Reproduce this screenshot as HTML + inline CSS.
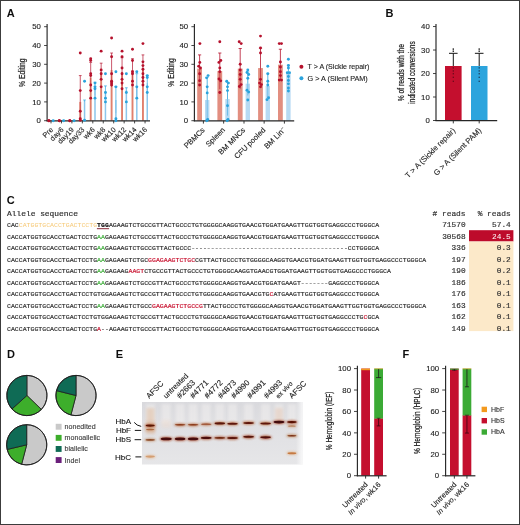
<!DOCTYPE html>
<html><head><meta charset="utf-8"><title>Figure</title>
<style>
html,body{margin:0;padding:0;background:#fff;}
body{width:520px;height:525px;overflow:hidden;position:relative;font-family:"Liberation Sans",sans-serif;}
svg{position:absolute;left:0;top:0;display:block;will-change:transform;}
svg text{white-space:pre;}
.m{font-family:"Liberation Mono",monospace;}
.sq tspan{stroke-width:0.16;}
.hd{stroke:#333;stroke-width:0.18;}
.frame{position:absolute;left:0;top:0;width:518px;height:523px;border:1px solid #3c3c3c;pointer-events:none;}
</style></head><body>
<svg width="520" height="525" viewBox="0 0 520 525" style="font-family:'Liberation Sans',sans-serif">
<rect x="0" y="0" width="520" height="525" fill="#fff"/>
<g font-weight="bold" font-size="11" fill="#0d0d0d">
<text x="6.7" y="16.8">A</text>
<text x="385.4" y="16.9">B</text>
<text x="6.7" y="204.2">C</text>
<text x="7.0" y="358.3">D</text>
<text x="115.8" y="358.3">E</text>
<text x="402.4" y="358.4">F</text>
</g>
<line x1="47.10" y1="24.00" x2="47.10" y2="121.30" stroke="#262626" stroke-width="1.15" />
<line x1="44.10" y1="120.70" x2="47.10" y2="120.70" stroke="#262626" stroke-width="0.85" />
<text font-size="7.8" fill="#1e1e1e" text-anchor="end" stroke="#1e1e1e" stroke-width="0.12" x="40.90" y="123.45" >0</text>
<line x1="44.10" y1="101.90" x2="47.10" y2="101.90" stroke="#262626" stroke-width="0.85" />
<text font-size="7.8" fill="#1e1e1e" text-anchor="end" stroke="#1e1e1e" stroke-width="0.12" x="40.90" y="104.65" >10</text>
<line x1="44.10" y1="83.10" x2="47.10" y2="83.10" stroke="#262626" stroke-width="0.85" />
<text font-size="7.8" fill="#1e1e1e" text-anchor="end" stroke="#1e1e1e" stroke-width="0.12" x="40.90" y="85.85" >20</text>
<line x1="44.10" y1="64.30" x2="47.10" y2="64.30" stroke="#262626" stroke-width="0.85" />
<text font-size="7.8" fill="#1e1e1e" text-anchor="end" stroke="#1e1e1e" stroke-width="0.12" x="40.90" y="67.05" >30</text>
<line x1="44.10" y1="45.50" x2="47.10" y2="45.50" stroke="#262626" stroke-width="0.85" />
<text font-size="7.8" fill="#1e1e1e" text-anchor="end" stroke="#1e1e1e" stroke-width="0.12" x="40.90" y="48.25" >40</text>
<line x1="44.10" y1="26.70" x2="47.10" y2="26.70" stroke="#262626" stroke-width="0.85" />
<text font-size="7.8" fill="#1e1e1e" text-anchor="end" stroke="#1e1e1e" stroke-width="0.12" x="40.90" y="29.45" >50</text>
<rect x="79.30" y="101.90" width="1.90" height="18.80" fill="#E0806E" />
<line x1="80.25" y1="75.58" x2="80.25" y2="101.90" stroke="#B5112C" stroke-width="0.7" />
<line x1="78.85" y1="75.58" x2="81.65" y2="75.58" stroke="#B5112C" stroke-width="0.7" />
<line x1="80.25" y1="101.90" x2="80.25" y2="120.70" stroke="#B5112C" stroke-width="0.6" opacity="0.7"/>
<rect x="83.80" y="100.96" width="1.50" height="19.74" fill="#8CC6EC" />
<line x1="84.55" y1="100.02" x2="84.55" y2="100.96" stroke="#2BA3DC" stroke-width="0.7" />
<line x1="83.15" y1="100.02" x2="85.95" y2="100.02" stroke="#2BA3DC" stroke-width="0.7" />
<line x1="84.55" y1="100.96" x2="84.55" y2="101.90" stroke="#2BA3DC" stroke-width="0.5" opacity="0.55"/>
<rect x="89.75" y="77.46" width="1.90" height="43.24" fill="#E0806E" />
<line x1="90.70" y1="62.42" x2="90.70" y2="77.46" stroke="#B5112C" stroke-width="0.7" />
<line x1="89.30" y1="62.42" x2="92.10" y2="62.42" stroke="#B5112C" stroke-width="0.7" />
<line x1="90.70" y1="77.46" x2="90.70" y2="92.50" stroke="#B5112C" stroke-width="0.6" opacity="0.7"/>
<rect x="94.25" y="88.74" width="1.50" height="31.96" fill="#8CC6EC" />
<line x1="95.00" y1="82.16" x2="95.00" y2="88.74" stroke="#2BA3DC" stroke-width="0.7" />
<line x1="93.60" y1="82.16" x2="96.40" y2="82.16" stroke="#2BA3DC" stroke-width="0.7" />
<line x1="95.00" y1="88.74" x2="95.00" y2="95.32" stroke="#2BA3DC" stroke-width="0.5" opacity="0.55"/>
<rect x="100.20" y="71.82" width="1.90" height="48.88" fill="#E0806E" />
<line x1="101.15" y1="63.17" x2="101.15" y2="71.82" stroke="#B5112C" stroke-width="0.7" />
<line x1="99.75" y1="63.17" x2="102.55" y2="63.17" stroke="#B5112C" stroke-width="0.7" />
<line x1="101.15" y1="71.82" x2="101.15" y2="80.47" stroke="#B5112C" stroke-width="0.6" opacity="0.7"/>
<rect x="104.70" y="91.56" width="1.50" height="29.14" fill="#8CC6EC" />
<line x1="105.45" y1="85.92" x2="105.45" y2="91.56" stroke="#2BA3DC" stroke-width="0.7" />
<line x1="104.05" y1="85.92" x2="106.85" y2="85.92" stroke="#2BA3DC" stroke-width="0.7" />
<line x1="105.45" y1="91.56" x2="105.45" y2="97.20" stroke="#2BA3DC" stroke-width="0.5" opacity="0.55"/>
<rect x="110.65" y="69.94" width="1.90" height="50.76" fill="#E0806E" />
<line x1="111.60" y1="53.02" x2="111.60" y2="69.94" stroke="#B5112C" stroke-width="0.7" />
<line x1="110.20" y1="53.02" x2="113.00" y2="53.02" stroke="#B5112C" stroke-width="0.7" />
<line x1="111.60" y1="69.94" x2="111.60" y2="86.86" stroke="#B5112C" stroke-width="0.6" opacity="0.7"/>
<rect x="115.15" y="100.02" width="1.50" height="20.68" fill="#8CC6EC" />
<line x1="115.90" y1="86.86" x2="115.90" y2="100.02" stroke="#2BA3DC" stroke-width="0.7" />
<line x1="114.50" y1="86.86" x2="117.30" y2="86.86" stroke="#2BA3DC" stroke-width="0.7" />
<line x1="115.90" y1="100.02" x2="115.90" y2="113.18" stroke="#2BA3DC" stroke-width="0.5" opacity="0.55"/>
<rect x="121.10" y="71.82" width="1.90" height="48.88" fill="#E0806E" />
<line x1="122.05" y1="57.72" x2="122.05" y2="71.82" stroke="#B5112C" stroke-width="0.7" />
<line x1="120.65" y1="57.72" x2="123.45" y2="57.72" stroke="#B5112C" stroke-width="0.7" />
<line x1="122.05" y1="71.82" x2="122.05" y2="85.92" stroke="#B5112C" stroke-width="0.6" opacity="0.7"/>
<rect x="125.60" y="89.68" width="1.50" height="31.02" fill="#8CC6EC" />
<line x1="126.35" y1="87.80" x2="126.35" y2="89.68" stroke="#2BA3DC" stroke-width="0.7" />
<line x1="124.95" y1="87.80" x2="127.75" y2="87.80" stroke="#2BA3DC" stroke-width="0.7" />
<line x1="126.35" y1="89.68" x2="126.35" y2="91.56" stroke="#2BA3DC" stroke-width="0.5" opacity="0.55"/>
<rect x="131.55" y="69.94" width="1.90" height="50.76" fill="#E0806E" />
<line x1="132.50" y1="58.66" x2="132.50" y2="69.94" stroke="#B5112C" stroke-width="0.7" />
<line x1="131.10" y1="58.66" x2="133.90" y2="58.66" stroke="#B5112C" stroke-width="0.7" />
<line x1="132.50" y1="69.94" x2="132.50" y2="81.22" stroke="#B5112C" stroke-width="0.6" opacity="0.7"/>
<rect x="136.05" y="85.92" width="1.50" height="34.78" fill="#8CC6EC" />
<line x1="136.80" y1="73.70" x2="136.80" y2="85.92" stroke="#2BA3DC" stroke-width="0.7" />
<line x1="135.40" y1="73.70" x2="138.20" y2="73.70" stroke="#2BA3DC" stroke-width="0.7" />
<line x1="136.80" y1="85.92" x2="136.80" y2="98.14" stroke="#2BA3DC" stroke-width="0.5" opacity="0.55"/>
<rect x="142.00" y="69.94" width="1.90" height="50.76" fill="#E0806E" />
<line x1="142.95" y1="54.90" x2="142.95" y2="69.94" stroke="#B5112C" stroke-width="0.7" />
<line x1="141.55" y1="54.90" x2="144.35" y2="54.90" stroke="#B5112C" stroke-width="0.7" />
<line x1="142.95" y1="69.94" x2="142.95" y2="84.98" stroke="#B5112C" stroke-width="0.6" opacity="0.7"/>
<rect x="146.50" y="83.10" width="1.50" height="37.60" fill="#8CC6EC" />
<line x1="147.25" y1="75.58" x2="147.25" y2="83.10" stroke="#2BA3DC" stroke-width="0.7" />
<line x1="145.85" y1="75.58" x2="148.65" y2="75.58" stroke="#2BA3DC" stroke-width="0.7" />
<line x1="147.25" y1="83.10" x2="147.25" y2="90.62" stroke="#2BA3DC" stroke-width="0.5" opacity="0.55"/>
<line x1="46.50" y1="120.80" x2="150.00" y2="120.80" stroke="#262626" stroke-width="1.2" />
<line x1="51.00" y1="120.70" x2="51.00" y2="123.40" stroke="#262626" stroke-width="0.85" />
<text font-size="7.3" fill="#1e1e1e" text-anchor="end" stroke="#1e1e1e" stroke-width="0.12" transform="translate(53.60,130.20) rotate(-45)" >Pre</text>
<line x1="61.45" y1="120.70" x2="61.45" y2="123.40" stroke="#262626" stroke-width="0.85" />
<text font-size="7.3" fill="#1e1e1e" text-anchor="end" stroke="#1e1e1e" stroke-width="0.12" transform="translate(64.05,130.20) rotate(-45)" >day6</text>
<line x1="71.90" y1="120.70" x2="71.90" y2="123.40" stroke="#262626" stroke-width="0.85" />
<text font-size="7.3" fill="#1e1e1e" text-anchor="end" stroke="#1e1e1e" stroke-width="0.12" transform="translate(74.50,130.20) rotate(-45)" >day19</text>
<line x1="82.35" y1="120.70" x2="82.35" y2="123.40" stroke="#262626" stroke-width="0.85" />
<text font-size="7.3" fill="#1e1e1e" text-anchor="end" stroke="#1e1e1e" stroke-width="0.12" transform="translate(84.95,130.20) rotate(-45)" >day33</text>
<line x1="92.80" y1="120.70" x2="92.80" y2="123.40" stroke="#262626" stroke-width="0.85" />
<text font-size="7.3" fill="#1e1e1e" text-anchor="end" stroke="#1e1e1e" stroke-width="0.12" transform="translate(95.40,130.20) rotate(-45)" >wk6</text>
<line x1="103.25" y1="120.70" x2="103.25" y2="123.40" stroke="#262626" stroke-width="0.85" />
<text font-size="7.3" fill="#1e1e1e" text-anchor="end" stroke="#1e1e1e" stroke-width="0.12" transform="translate(105.85,130.20) rotate(-45)" >wk8</text>
<line x1="113.70" y1="120.70" x2="113.70" y2="123.40" stroke="#262626" stroke-width="0.85" />
<text font-size="7.3" fill="#1e1e1e" text-anchor="end" stroke="#1e1e1e" stroke-width="0.12" transform="translate(116.30,130.20) rotate(-45)" >wk10</text>
<line x1="124.15" y1="120.70" x2="124.15" y2="123.40" stroke="#262626" stroke-width="0.85" />
<text font-size="7.3" fill="#1e1e1e" text-anchor="end" stroke="#1e1e1e" stroke-width="0.12" transform="translate(126.75,130.20) rotate(-45)" >wk12</text>
<line x1="134.60" y1="120.70" x2="134.60" y2="123.40" stroke="#262626" stroke-width="0.85" />
<text font-size="7.3" fill="#1e1e1e" text-anchor="end" stroke="#1e1e1e" stroke-width="0.12" transform="translate(137.20,130.20) rotate(-45)" >wk14</text>
<line x1="145.05" y1="120.70" x2="145.05" y2="123.40" stroke="#262626" stroke-width="0.85" />
<text font-size="7.3" fill="#1e1e1e" text-anchor="end" stroke="#1e1e1e" stroke-width="0.12" transform="translate(147.65,130.20) rotate(-45)" >wk16</text>
<circle cx="48.90" cy="120.70" r="1.45" fill="#B5112C" />
<circle cx="48.90" cy="120.70" r="1.45" fill="#B5112C" />
<circle cx="53.20" cy="120.70" r="1.45" fill="#2BA3DC" />
<circle cx="59.35" cy="120.70" r="1.45" fill="#B5112C" />
<circle cx="59.35" cy="120.70" r="1.45" fill="#B5112C" />
<circle cx="63.65" cy="120.70" r="1.45" fill="#2BA3DC" />
<circle cx="69.80" cy="120.70" r="1.45" fill="#B5112C" />
<circle cx="69.80" cy="120.70" r="1.45" fill="#B5112C" />
<circle cx="74.10" cy="120.70" r="1.45" fill="#2BA3DC" />
<circle cx="80.25" cy="53.02" r="1.45" fill="#B5112C" />
<circle cx="80.25" cy="90.62" r="1.45" fill="#B5112C" />
<circle cx="80.25" cy="111.30" r="1.45" fill="#B5112C" />
<circle cx="80.25" cy="118.82" r="1.45" fill="#B5112C" />
<circle cx="80.25" cy="120.32" r="1.45" fill="#B5112C" />
<circle cx="84.55" cy="81.22" r="1.45" fill="#2BA3DC" />
<circle cx="84.55" cy="120.32" r="1.45" fill="#2BA3DC" />
<circle cx="90.70" cy="58.66" r="1.45" fill="#B5112C" />
<circle cx="90.70" cy="60.54" r="1.45" fill="#B5112C" />
<circle cx="90.70" cy="73.70" r="1.45" fill="#B5112C" />
<circle cx="90.70" cy="75.58" r="1.45" fill="#B5112C" />
<circle cx="90.70" cy="84.98" r="1.45" fill="#B5112C" />
<circle cx="90.70" cy="90.62" r="1.45" fill="#B5112C" />
<circle cx="90.70" cy="98.14" r="1.45" fill="#B5112C" />
<circle cx="95.00" cy="83.10" r="1.45" fill="#2BA3DC" />
<circle cx="95.00" cy="86.86" r="1.45" fill="#2BA3DC" />
<circle cx="95.00" cy="88.74" r="1.45" fill="#2BA3DC" />
<circle cx="95.00" cy="98.14" r="1.45" fill="#2BA3DC" />
<circle cx="101.15" cy="51.14" r="1.45" fill="#B5112C" />
<circle cx="101.15" cy="69.94" r="1.45" fill="#B5112C" />
<circle cx="101.15" cy="73.70" r="1.45" fill="#B5112C" />
<circle cx="101.15" cy="79.34" r="1.45" fill="#B5112C" />
<circle cx="101.15" cy="86.86" r="1.45" fill="#B5112C" />
<circle cx="105.45" cy="73.70" r="1.45" fill="#2BA3DC" />
<circle cx="105.45" cy="92.50" r="1.45" fill="#2BA3DC" />
<circle cx="105.45" cy="98.14" r="1.45" fill="#2BA3DC" />
<circle cx="105.45" cy="101.90" r="1.45" fill="#2BA3DC" />
<circle cx="111.60" cy="37.98" r="1.45" fill="#B5112C" />
<circle cx="111.60" cy="56.78" r="1.45" fill="#B5112C" />
<circle cx="111.60" cy="73.70" r="1.45" fill="#B5112C" />
<circle cx="111.60" cy="81.22" r="1.45" fill="#B5112C" />
<circle cx="111.60" cy="83.10" r="1.45" fill="#B5112C" />
<circle cx="111.60" cy="84.98" r="1.45" fill="#B5112C" />
<circle cx="115.90" cy="71.82" r="1.45" fill="#2BA3DC" />
<circle cx="115.90" cy="86.86" r="1.45" fill="#2BA3DC" />
<circle cx="115.90" cy="118.82" r="1.45" fill="#2BA3DC" />
<circle cx="115.90" cy="120.70" r="1.45" fill="#2BA3DC" />
<circle cx="122.05" cy="51.14" r="1.45" fill="#B5112C" />
<circle cx="122.05" cy="56.78" r="1.45" fill="#B5112C" />
<circle cx="122.05" cy="68.06" r="1.45" fill="#B5112C" />
<circle cx="122.05" cy="73.70" r="1.45" fill="#B5112C" />
<circle cx="122.05" cy="79.34" r="1.45" fill="#B5112C" />
<circle cx="122.05" cy="83.10" r="1.45" fill="#B5112C" />
<circle cx="122.05" cy="88.74" r="1.45" fill="#B5112C" />
<circle cx="126.35" cy="73.70" r="1.45" fill="#2BA3DC" />
<circle cx="126.35" cy="92.50" r="1.45" fill="#2BA3DC" />
<circle cx="126.35" cy="101.90" r="1.45" fill="#2BA3DC" />
<circle cx="132.50" cy="49.26" r="1.45" fill="#B5112C" />
<circle cx="132.50" cy="60.54" r="1.45" fill="#B5112C" />
<circle cx="132.50" cy="71.82" r="1.45" fill="#B5112C" />
<circle cx="132.50" cy="73.70" r="1.45" fill="#B5112C" />
<circle cx="132.50" cy="81.22" r="1.45" fill="#B5112C" />
<circle cx="132.50" cy="84.98" r="1.45" fill="#B5112C" />
<circle cx="136.80" cy="71.82" r="1.45" fill="#2BA3DC" />
<circle cx="136.80" cy="86.86" r="1.45" fill="#2BA3DC" />
<circle cx="136.80" cy="98.14" r="1.45" fill="#2BA3DC" />
<circle cx="142.95" cy="43.62" r="1.45" fill="#B5112C" />
<circle cx="142.95" cy="61.86" r="1.45" fill="#B5112C" />
<circle cx="142.95" cy="65.62" r="1.45" fill="#B5112C" />
<circle cx="142.95" cy="69.19" r="1.45" fill="#B5112C" />
<circle cx="142.95" cy="73.70" r="1.45" fill="#B5112C" />
<circle cx="142.95" cy="77.46" r="1.45" fill="#B5112C" />
<circle cx="142.95" cy="81.22" r="1.45" fill="#B5112C" />
<circle cx="142.95" cy="84.98" r="1.45" fill="#B5112C" />
<circle cx="147.25" cy="75.58" r="1.45" fill="#2BA3DC" />
<circle cx="147.25" cy="77.46" r="1.45" fill="#2BA3DC" />
<circle cx="147.25" cy="86.86" r="1.45" fill="#2BA3DC" />
<circle cx="147.25" cy="92.50" r="1.45" fill="#2BA3DC" />
<text font-size="8.2" fill="#1e1e1e" text-anchor="middle" textLength="28.4" lengthAdjust="spacingAndGlyphs" transform="translate(25.40,72.70) rotate(-90)" stroke="#1e1e1e" stroke-width="0.22">% Editing</text>
<line x1="194.40" y1="24.00" x2="194.40" y2="121.30" stroke="#262626" stroke-width="1.15" />
<line x1="191.40" y1="120.70" x2="194.40" y2="120.70" stroke="#262626" stroke-width="0.85" />
<text font-size="7.8" fill="#1e1e1e" text-anchor="end" stroke="#1e1e1e" stroke-width="0.12" x="188.20" y="123.45" >0</text>
<line x1="191.40" y1="101.90" x2="194.40" y2="101.90" stroke="#262626" stroke-width="0.85" />
<text font-size="7.8" fill="#1e1e1e" text-anchor="end" stroke="#1e1e1e" stroke-width="0.12" x="188.20" y="104.65" >10</text>
<line x1="191.40" y1="83.10" x2="194.40" y2="83.10" stroke="#262626" stroke-width="0.85" />
<text font-size="7.8" fill="#1e1e1e" text-anchor="end" stroke="#1e1e1e" stroke-width="0.12" x="188.20" y="85.85" >20</text>
<line x1="191.40" y1="64.30" x2="194.40" y2="64.30" stroke="#262626" stroke-width="0.85" />
<text font-size="7.8" fill="#1e1e1e" text-anchor="end" stroke="#1e1e1e" stroke-width="0.12" x="188.20" y="67.05" >30</text>
<line x1="191.40" y1="45.50" x2="194.40" y2="45.50" stroke="#262626" stroke-width="0.85" />
<text font-size="7.8" fill="#1e1e1e" text-anchor="end" stroke="#1e1e1e" stroke-width="0.12" x="188.20" y="48.25" >40</text>
<line x1="191.40" y1="26.70" x2="194.40" y2="26.70" stroke="#262626" stroke-width="0.85" />
<text font-size="7.8" fill="#1e1e1e" text-anchor="end" stroke="#1e1e1e" stroke-width="0.12" x="188.20" y="29.45" >50</text>
<rect x="197.20" y="68.62" width="4.80" height="52.08" fill="#E28E80" />
<rect x="205.00" y="100.02" width="4.40" height="20.68" fill="#B7DAF3" />
<line x1="199.60" y1="54.90" x2="199.60" y2="68.62" stroke="#B5112C" stroke-width="0.8" />
<line x1="198.00" y1="54.90" x2="201.20" y2="54.90" stroke="#B5112C" stroke-width="0.8" />
<line x1="207.20" y1="77.46" x2="207.20" y2="100.02" stroke="#2BA3DC" stroke-width="0.8" />
<line x1="205.60" y1="77.46" x2="208.80" y2="77.46" stroke="#2BA3DC" stroke-width="0.5" />
<line x1="199.60" y1="68.62" x2="199.60" y2="82.35" stroke="#B5112C" stroke-width="0.8" opacity="0.75"/>
<line x1="207.20" y1="100.02" x2="207.20" y2="120.70" stroke="#4FB0E3" stroke-width="0.8" opacity="0.85"/>
<rect x="217.40" y="71.07" width="4.80" height="49.63" fill="#E28E80" />
<rect x="225.30" y="99.08" width="4.40" height="21.62" fill="#B7DAF3" />
<line x1="219.80" y1="53.02" x2="219.80" y2="71.07" stroke="#B5112C" stroke-width="0.8" />
<line x1="218.20" y1="53.02" x2="221.40" y2="53.02" stroke="#B5112C" stroke-width="0.8" />
<line x1="227.50" y1="82.54" x2="227.50" y2="99.08" stroke="#2BA3DC" stroke-width="0.8" />
<line x1="225.90" y1="82.54" x2="229.10" y2="82.54" stroke="#2BA3DC" stroke-width="0.5" />
<line x1="219.80" y1="71.07" x2="219.80" y2="89.12" stroke="#B5112C" stroke-width="0.8" opacity="0.75"/>
<line x1="227.50" y1="99.08" x2="227.50" y2="115.62" stroke="#4FB0E3" stroke-width="0.8" opacity="0.85"/>
<rect x="237.80" y="68.62" width="4.80" height="52.08" fill="#E28E80" />
<rect x="245.60" y="83.66" width="4.40" height="37.04" fill="#B7DAF3" />
<line x1="240.20" y1="48.51" x2="240.20" y2="68.62" stroke="#B5112C" stroke-width="0.8" />
<line x1="238.60" y1="48.51" x2="241.80" y2="48.51" stroke="#B5112C" stroke-width="0.8" />
<line x1="247.80" y1="71.82" x2="247.80" y2="83.66" stroke="#2BA3DC" stroke-width="0.8" />
<line x1="246.20" y1="71.82" x2="249.40" y2="71.82" stroke="#2BA3DC" stroke-width="0.5" />
<line x1="240.20" y1="68.62" x2="240.20" y2="88.74" stroke="#B5112C" stroke-width="0.8" opacity="0.75"/>
<line x1="247.80" y1="83.66" x2="247.80" y2="95.51" stroke="#4FB0E3" stroke-width="0.8" opacity="0.85"/>
<rect x="258.10" y="68.06" width="4.80" height="52.64" fill="#E28E80" />
<rect x="265.60" y="85.92" width="4.40" height="34.78" fill="#B7DAF3" />
<line x1="260.50" y1="48.13" x2="260.50" y2="68.06" stroke="#B5112C" stroke-width="0.8" />
<line x1="258.90" y1="48.13" x2="262.10" y2="48.13" stroke="#B5112C" stroke-width="0.8" />
<line x1="267.80" y1="73.70" x2="267.80" y2="85.92" stroke="#2BA3DC" stroke-width="0.8" />
<line x1="266.20" y1="73.70" x2="269.40" y2="73.70" stroke="#2BA3DC" stroke-width="0.5" />
<line x1="260.50" y1="68.06" x2="260.50" y2="87.99" stroke="#B5112C" stroke-width="0.8" opacity="0.75"/>
<line x1="267.80" y1="85.92" x2="267.80" y2="98.14" stroke="#4FB0E3" stroke-width="0.8" opacity="0.85"/>
<rect x="278.00" y="64.68" width="4.80" height="56.02" fill="#E28E80" />
<rect x="286.20" y="72.76" width="4.40" height="47.94" fill="#B7DAF3" />
<line x1="280.40" y1="49.26" x2="280.40" y2="64.68" stroke="#B5112C" stroke-width="0.8" />
<line x1="278.80" y1="49.26" x2="282.00" y2="49.26" stroke="#B5112C" stroke-width="0.8" />
<line x1="288.40" y1="65.24" x2="288.40" y2="72.76" stroke="#2BA3DC" stroke-width="0.8" />
<line x1="286.80" y1="65.24" x2="290.00" y2="65.24" stroke="#2BA3DC" stroke-width="0.5" />
<line x1="280.40" y1="64.68" x2="280.40" y2="80.09" stroke="#B5112C" stroke-width="0.8" opacity="0.75"/>
<line x1="288.40" y1="72.76" x2="288.40" y2="80.28" stroke="#4FB0E3" stroke-width="0.8" opacity="0.85"/>
<line x1="193.80" y1="120.80" x2="294.20" y2="120.80" stroke="#262626" stroke-width="1.2" />
<line x1="203.40" y1="120.70" x2="203.40" y2="123.60" stroke="#262626" stroke-width="0.9" />
<text font-size="7.6" fill="#1e1e1e" text-anchor="end" stroke="#1e1e1e" stroke-width="0.12" transform="translate(205.20,130.60) rotate(-45)" >PBMCs</text>
<line x1="223.65" y1="120.70" x2="223.65" y2="123.60" stroke="#262626" stroke-width="0.9" />
<text font-size="7.6" fill="#1e1e1e" text-anchor="end" stroke="#1e1e1e" stroke-width="0.12" transform="translate(225.45,130.60) rotate(-45)" >Spleen</text>
<line x1="244.00" y1="120.70" x2="244.00" y2="123.60" stroke="#262626" stroke-width="0.9" />
<text font-size="7.6" fill="#1e1e1e" text-anchor="end" stroke="#1e1e1e" stroke-width="0.12" transform="translate(245.80,130.60) rotate(-45)" >BM MNCs</text>
<line x1="264.15" y1="120.70" x2="264.15" y2="123.60" stroke="#262626" stroke-width="0.9" />
<text font-size="7.6" fill="#1e1e1e" text-anchor="end" stroke="#1e1e1e" stroke-width="0.12" transform="translate(265.95,130.60) rotate(-45)" >CFU pooled</text>
<line x1="284.40" y1="120.70" x2="284.40" y2="123.60" stroke="#262626" stroke-width="0.9" />
<text font-size="7.6" fill="#1e1e1e" text-anchor="end" stroke="#1e1e1e" stroke-width="0.12" transform="translate(286.20,130.40) rotate(-45)" >BM Lin<tspan dy="-2.6" font-size="5.4">−</tspan></text>
<circle cx="199.90" cy="43.62" r="1.45" fill="#B5112C" />
<circle cx="199.80" cy="62.42" r="1.45" fill="#B5112C" />
<circle cx="198.70" cy="66.18" r="1.45" fill="#B5112C" />
<circle cx="200.50" cy="68.06" r="1.45" fill="#B5112C" />
<circle cx="199.60" cy="73.70" r="1.45" fill="#B5112C" />
<circle cx="199.60" cy="80.66" r="1.45" fill="#B5112C" />
<circle cx="199.60" cy="84.98" r="1.45" fill="#B5112C" />
<circle cx="208.10" cy="75.58" r="1.45" fill="#2BA3DC" />
<circle cx="206.60" cy="77.84" r="1.45" fill="#2BA3DC" />
<circle cx="207.20" cy="86.86" r="1.45" fill="#2BA3DC" />
<circle cx="207.20" cy="92.88" r="1.45" fill="#2BA3DC" />
<circle cx="207.70" cy="119.57" r="1.45" fill="#2BA3DC" />
<circle cx="206.80" cy="120.70" r="1.45" fill="#2BA3DC" />
<circle cx="219.80" cy="41.74" r="1.45" fill="#B5112C" />
<circle cx="220.80" cy="60.54" r="1.45" fill="#B5112C" />
<circle cx="218.90" cy="62.42" r="1.45" fill="#B5112C" />
<circle cx="219.80" cy="68.06" r="1.45" fill="#B5112C" />
<circle cx="219.80" cy="71.82" r="1.45" fill="#B5112C" />
<circle cx="219.00" cy="78.96" r="1.45" fill="#B5112C" />
<circle cx="220.70" cy="80.84" r="1.45" fill="#B5112C" />
<circle cx="219.80" cy="92.50" r="1.45" fill="#B5112C" />
<circle cx="226.70" cy="81.22" r="1.45" fill="#2BA3DC" />
<circle cx="228.40" cy="83.10" r="1.45" fill="#2BA3DC" />
<circle cx="227.50" cy="86.86" r="1.45" fill="#2BA3DC" />
<circle cx="227.50" cy="90.62" r="1.45" fill="#2BA3DC" />
<circle cx="227.50" cy="105.66" r="1.45" fill="#2BA3DC" />
<circle cx="228.00" cy="119.38" r="1.45" fill="#2BA3DC" />
<circle cx="227.10" cy="120.70" r="1.45" fill="#2BA3DC" />
<circle cx="239.20" cy="41.74" r="1.45" fill="#B5112C" />
<circle cx="241.20" cy="43.62" r="1.45" fill="#B5112C" />
<circle cx="240.20" cy="64.30" r="1.45" fill="#B5112C" />
<circle cx="240.20" cy="69.94" r="1.45" fill="#B5112C" />
<circle cx="240.20" cy="74.45" r="1.45" fill="#B5112C" />
<circle cx="240.20" cy="79.34" r="1.45" fill="#B5112C" />
<circle cx="241.10" cy="84.60" r="1.45" fill="#B5112C" />
<circle cx="239.40" cy="86.48" r="1.45" fill="#B5112C" />
<circle cx="247.80" cy="69.94" r="1.45" fill="#2BA3DC" />
<circle cx="247.00" cy="72.57" r="1.45" fill="#2BA3DC" />
<circle cx="248.70" cy="74.45" r="1.45" fill="#2BA3DC" />
<circle cx="247.80" cy="78.21" r="1.45" fill="#2BA3DC" />
<circle cx="247.00" cy="90.24" r="1.45" fill="#2BA3DC" />
<circle cx="248.70" cy="92.12" r="1.45" fill="#2BA3DC" />
<circle cx="247.80" cy="100.02" r="1.45" fill="#2BA3DC" />
<circle cx="260.50" cy="36.10" r="1.45" fill="#B5112C" />
<circle cx="260.50" cy="47.94" r="1.45" fill="#B5112C" />
<circle cx="260.50" cy="53.02" r="1.45" fill="#B5112C" />
<circle cx="260.50" cy="79.34" r="1.45" fill="#B5112C" />
<circle cx="259.60" cy="83.10" r="1.45" fill="#B5112C" />
<circle cx="261.40" cy="84.60" r="1.45" fill="#B5112C" />
<circle cx="260.50" cy="86.86" r="1.45" fill="#B5112C" />
<circle cx="267.80" cy="66.18" r="1.45" fill="#2BA3DC" />
<circle cx="267.80" cy="73.70" r="1.45" fill="#2BA3DC" />
<circle cx="267.80" cy="81.22" r="1.45" fill="#2BA3DC" />
<circle cx="267.80" cy="84.98" r="1.45" fill="#2BA3DC" />
<circle cx="268.60" cy="97.76" r="1.45" fill="#2BA3DC" />
<circle cx="267.00" cy="99.64" r="1.45" fill="#2BA3DC" />
<circle cx="279.30" cy="43.62" r="1.45" fill="#B5112C" />
<circle cx="281.50" cy="43.62" r="1.45" fill="#B5112C" />
<circle cx="280.40" cy="62.04" r="1.45" fill="#B5112C" />
<circle cx="280.40" cy="66.93" r="1.45" fill="#B5112C" />
<circle cx="280.40" cy="71.82" r="1.45" fill="#B5112C" />
<circle cx="280.40" cy="75.58" r="1.45" fill="#B5112C" />
<circle cx="279.30" cy="80.09" r="1.45" fill="#B5112C" />
<circle cx="281.50" cy="80.09" r="1.45" fill="#B5112C" />
<circle cx="288.40" cy="59.22" r="1.45" fill="#2BA3DC" />
<circle cx="288.40" cy="65.43" r="1.45" fill="#2BA3DC" />
<circle cx="288.40" cy="68.06" r="1.45" fill="#2BA3DC" />
<circle cx="287.30" cy="72.76" r="1.45" fill="#2BA3DC" />
<circle cx="289.50" cy="72.76" r="1.45" fill="#2BA3DC" />
<circle cx="288.40" cy="76.52" r="1.45" fill="#2BA3DC" />
<circle cx="288.40" cy="80.47" r="1.45" fill="#2BA3DC" />
<circle cx="288.40" cy="83.85" r="1.45" fill="#2BA3DC" />
<circle cx="288.40" cy="87.99" r="1.45" fill="#2BA3DC" />
<circle cx="288.40" cy="91.00" r="1.45" fill="#2BA3DC" />
<text font-size="8.2" fill="#1e1e1e" text-anchor="middle" textLength="28.4" lengthAdjust="spacingAndGlyphs" transform="translate(174.00,72.50) rotate(-90)" stroke="#1e1e1e" stroke-width="0.22">% Editing</text>
<circle cx="301.40" cy="66.80" r="2.0" fill="#B5112C" />
<circle cx="301.40" cy="78.30" r="2.0" fill="#2BA3DC" />
<text font-size="7" fill="#1e1e1e" stroke="#1e1e1e" stroke-width="0.12" textLength="61.8" lengthAdjust="spacingAndGlyphs" x="307.60" y="69.30" >T &gt; A (Sickle repair)</text>
<text font-size="7" fill="#1e1e1e" stroke="#1e1e1e" stroke-width="0.12" textLength="60.2" lengthAdjust="spacingAndGlyphs" x="307.60" y="80.80" >G &gt; A (Silent PAM)</text>
<line x1="436.00" y1="24.00" x2="436.00" y2="121.10" stroke="#262626" stroke-width="1.15" />
<line x1="433.00" y1="120.50" x2="436.00" y2="120.50" stroke="#262626" stroke-width="0.85" />
<text font-size="7.8" fill="#1e1e1e" text-anchor="end" stroke="#1e1e1e" stroke-width="0.12" x="429.80" y="123.25" >0</text>
<line x1="433.00" y1="97.01" x2="436.00" y2="97.01" stroke="#262626" stroke-width="0.85" />
<text font-size="7.8" fill="#1e1e1e" text-anchor="end" stroke="#1e1e1e" stroke-width="0.12" x="429.80" y="99.76" >10</text>
<line x1="433.00" y1="73.52" x2="436.00" y2="73.52" stroke="#262626" stroke-width="0.85" />
<text font-size="7.8" fill="#1e1e1e" text-anchor="end" stroke="#1e1e1e" stroke-width="0.12" x="429.80" y="76.27" >20</text>
<line x1="433.00" y1="50.03" x2="436.00" y2="50.03" stroke="#262626" stroke-width="0.85" />
<text font-size="7.8" fill="#1e1e1e" text-anchor="end" stroke="#1e1e1e" stroke-width="0.12" x="429.80" y="52.78" >30</text>
<line x1="433.00" y1="26.54" x2="436.00" y2="26.54" stroke="#262626" stroke-width="0.85" />
<text font-size="7.8" fill="#1e1e1e" text-anchor="end" stroke="#1e1e1e" stroke-width="0.12" x="429.80" y="29.29" >40</text>
<rect x="445.00" y="66.00" width="16.60" height="54.50" fill="#C40F2E" />
<rect x="471.00" y="66.00" width="16.50" height="54.50" fill="#2CA4DD" />
<line x1="453.30" y1="53.32" x2="453.30" y2="66.00" stroke="#151515" stroke-width="1.0" />
<line x1="449.00" y1="53.32" x2="457.60" y2="53.32" stroke="#151515" stroke-width="1.0" />
<rect x="452.60" y="48.39" width="1.40" height="1.40" fill="#1a1a1a" />
<rect x="452.60" y="50.50" width="1.40" height="1.40" fill="#1a1a1a" />
<rect x="452.70" y="67.28" width="1.20" height="1.20" fill="#5a0a18" />
<rect x="452.70" y="70.34" width="1.20" height="1.20" fill="#5a0a18" />
<rect x="452.70" y="73.15" width="1.20" height="1.20" fill="#5a0a18" />
<rect x="452.70" y="76.68" width="1.20" height="1.20" fill="#5a0a18" />
<rect x="452.70" y="80.67" width="1.20" height="1.20" fill="#5a0a18" />
<line x1="479.20" y1="53.32" x2="479.20" y2="66.00" stroke="#151515" stroke-width="1.0" />
<line x1="474.90" y1="53.32" x2="483.50" y2="53.32" stroke="#151515" stroke-width="1.0" />
<rect x="478.50" y="48.39" width="1.40" height="1.40" fill="#1a1a1a" />
<rect x="478.50" y="50.50" width="1.40" height="1.40" fill="#1a1a1a" />
<rect x="478.60" y="67.28" width="1.20" height="1.20" fill="#1b2a44" />
<rect x="478.60" y="70.34" width="1.20" height="1.20" fill="#1b2a44" />
<rect x="478.60" y="73.15" width="1.20" height="1.20" fill="#1b2a44" />
<rect x="478.60" y="76.68" width="1.20" height="1.20" fill="#1b2a44" />
<rect x="478.60" y="80.67" width="1.20" height="1.20" fill="#1b2a44" />
<line x1="435.40" y1="120.60" x2="497.20" y2="120.60" stroke="#262626" stroke-width="1.2" />
<line x1="453.30" y1="120.50" x2="453.30" y2="123.40" stroke="#262626" stroke-width="0.9" />
<line x1="479.20" y1="120.50" x2="479.20" y2="123.40" stroke="#262626" stroke-width="0.9" />
<text font-size="7.7" fill="#1e1e1e" text-anchor="end" stroke="#1e1e1e" stroke-width="0.12" transform="translate(455.80,131.00) rotate(-45)" >T &gt; A (Sickle repair)</text>
<text font-size="7.7" fill="#1e1e1e" text-anchor="end" stroke="#1e1e1e" stroke-width="0.12" transform="translate(481.80,131.00) rotate(-45)" >G &gt; A (Silent PAM)</text>
<text font-size="8.2" fill="#1e1e1e" text-anchor="middle" textLength="57.2" lengthAdjust="spacingAndGlyphs" transform="translate(404.20,72.70) rotate(-90)" stroke="#1e1e1e" stroke-width="0.22">% of reads with the</text>
<text font-size="8.2" fill="#1e1e1e" text-anchor="middle" textLength="62.3" lengthAdjust="spacingAndGlyphs" transform="translate(415.20,72.50) rotate(-90)" stroke="#1e1e1e" stroke-width="0.22">indicated conversions</text>
<text font-size="7.4" fill="#333" class="m hd" textLength="71" lengthAdjust="spacingAndGlyphs" x="7.00" y="216.40" style="stroke-width:0.2">Allele sequence</text>
<text font-size="7.9" fill="#333" text-anchor="end" class="m hd" x="465.60" y="215.60" ># reads</text>
<text font-size="7.9" fill="#333" text-anchor="end" class="m hd" x="510.80" y="215.60" >% reads</text>
<rect x="469.00" y="230.20" width="44.40" height="11.30" fill="#BD0B2B" />
<rect x="469.00" y="241.50" width="44.40" height="89.60" fill="#FCE9C9" />
<text x="7" y="227.10" class="m sq" font-size="5.95" textLength="372.21" lengthAdjust="spacingAndGlyphs"><tspan fill="#2c2c2c" stroke="#2c2c2c">CAC</tspan><tspan fill="#F6C874" stroke="none">CATGGTGCACCTGACTCCTG</tspan><tspan fill="#111" stroke="#111" font-weight="bold">TGG</tspan><tspan fill="#2c2c2c" stroke="#2c2c2c">AGAAGTCTGCCGTTACTGCCCTGTGGGGCAAGGTGAACGTGGATGAAGTTGGTGGTGAGGCCCTGGGCA</tspan></text>
<text font-size="7.8" fill="#333" text-anchor="end" class="m hd" x="465.60" y="227.30" >71570</text>
<text font-size="7.8" fill="#333" text-anchor="end" class="m hd" x="510.80" y="227.30" >57.4</text>
<text x="7" y="238.59" class="m sq" font-size="5.95" textLength="372.21" lengthAdjust="spacingAndGlyphs"><tspan fill="#2c2c2c" stroke="#2c2c2c">CACCATGGTGCACCTGACTCCTG</tspan><tspan fill="#3FAE3A" stroke="#3FAE3A">AA</tspan><tspan fill="#2c2c2c" stroke="#2c2c2c">GAGAAGTCTGCCGTTACTGCCCTGTGGGGCAAGGTGAACGTGGATGAAGTTGGTGGTGAGGCCCTGGGCA</tspan></text>
<text font-size="7.8" fill="#333" text-anchor="end" class="m hd" x="465.60" y="238.79" >30568</text>
<text font-size="7.8" fill="#fff" text-anchor="end" class="m" x="510.80" y="238.79" >24.5</text>
<text x="7" y="250.08" class="m sq" font-size="5.95" textLength="372.21" lengthAdjust="spacingAndGlyphs"><tspan fill="#2c2c2c" stroke="#2c2c2c">CACCATGGTGCACCTGACTCCTG</tspan><tspan fill="#3FAE3A" stroke="#3FAE3A">AA</tspan><tspan fill="#2c2c2c" stroke="#2c2c2c">GAGAAGTCTGCCGTTACTGCCC</tspan><tspan fill="#2c2c2c" stroke="#2c2c2c">----------------------------------------</tspan><tspan fill="#2c2c2c" stroke="#2c2c2c">CCTGGGCA</tspan></text>
<text font-size="7.8" fill="#333" text-anchor="end" class="m hd" x="465.60" y="250.28" >336</text>
<text font-size="7.8" fill="#333" text-anchor="end" class="m hd" x="510.80" y="250.28" >0.3</text>
<text x="7" y="261.57" class="m sq" font-size="5.95" textLength="419.23" lengthAdjust="spacingAndGlyphs"><tspan fill="#2c2c2c" stroke="#2c2c2c">CACCATGGTGCACCTGACTCCTG</tspan><tspan fill="#3FAE3A" stroke="#3FAE3A">AA</tspan><tspan fill="#2c2c2c" stroke="#2c2c2c">GAGAAGTCTGC</tspan><tspan fill="#C8102E" stroke="#C8102E">GGAGAAGTCTGC</tspan><tspan fill="#2c2c2c" stroke="#2c2c2c">CGTTACTGCCCTGTGGGGCAAGGTGAACGTGGATGAAGTTGGTGGTGAGGCCCTGGGCA</tspan></text>
<text font-size="7.8" fill="#333" text-anchor="end" class="m hd" x="465.60" y="261.77" >197</text>
<text font-size="7.8" fill="#333" text-anchor="end" class="m hd" x="510.80" y="261.77" >0.2</text>
<text x="7" y="273.06" class="m sq" font-size="5.95" textLength="383.96" lengthAdjust="spacingAndGlyphs"><tspan fill="#2c2c2c" stroke="#2c2c2c">CACCATGGTGCACCTGACTCCTG</tspan><tspan fill="#3FAE3A" stroke="#3FAE3A">AA</tspan><tspan fill="#2c2c2c" stroke="#2c2c2c">GAGAAG</tspan><tspan fill="#C8102E" stroke="#C8102E">AAGT</tspan><tspan fill="#2c2c2c" stroke="#2c2c2c">CTGCCGTTACTGCCCTGTGGGGCAAGGTGAACGTGGATGAAGTTGGTGGTGAGGCCCTGGGCA</tspan></text>
<text font-size="7.8" fill="#333" text-anchor="end" class="m hd" x="465.60" y="273.26" >190</text>
<text font-size="7.8" fill="#333" text-anchor="end" class="m hd" x="510.80" y="273.26" >0.2</text>
<text x="7" y="284.55" class="m sq" font-size="5.95" textLength="372.21" lengthAdjust="spacingAndGlyphs"><tspan fill="#2c2c2c" stroke="#2c2c2c">CACCATGGTGCACCTGACTCCTG</tspan><tspan fill="#3FAE3A" stroke="#3FAE3A">AA</tspan><tspan fill="#2c2c2c" stroke="#2c2c2c">GAGAAGTCTGCCGTTACTGCCCTGTGGGGCAAGGTGAACGTGGATGAAGT</tspan><tspan fill="#2c2c2c" stroke="#2c2c2c">-------</tspan><tspan fill="#2c2c2c" stroke="#2c2c2c">GAGGCCCTGGGCA</tspan></text>
<text font-size="7.8" fill="#333" text-anchor="end" class="m hd" x="465.60" y="284.75" >186</text>
<text font-size="7.8" fill="#333" text-anchor="end" class="m hd" x="510.80" y="284.75" >0.1</text>
<text x="7" y="296.04" class="m sq" font-size="5.95" textLength="372.21" lengthAdjust="spacingAndGlyphs"><tspan fill="#2c2c2c" stroke="#2c2c2c">CACCATGGTGCACCTGACTCCTGTGGAGAAGTCTGCCGTTACTGCCCTGTGGGGCAAGGTGAACGTG</tspan><tspan fill="#C8102E" stroke="#C8102E">C</tspan><tspan fill="#2c2c2c" stroke="#2c2c2c">ATGAAGTTGGTGGTGAGGCCCTGGGCA</tspan></text>
<text font-size="7.8" fill="#333" text-anchor="end" class="m hd" x="465.60" y="296.24" >176</text>
<text font-size="7.8" fill="#333" text-anchor="end" class="m hd" x="510.80" y="296.24" >0.1</text>
<text x="7" y="307.53" class="m sq" font-size="5.95" textLength="419.23" lengthAdjust="spacingAndGlyphs"><tspan fill="#2c2c2c" stroke="#2c2c2c">CACCATGGTGCACCTGACTCCTG</tspan><tspan fill="#3FAE3A" stroke="#3FAE3A">AA</tspan><tspan fill="#2c2c2c" stroke="#2c2c2c">GAGAAGTCTGCC</tspan><tspan fill="#C8102E" stroke="#C8102E">GAGAAGTCTGCCG</tspan><tspan fill="#2c2c2c" stroke="#2c2c2c">TTACTGCCCTGTGGGGCAAGGTGAACGTGGATGAAGTTGGTGGTGAGGCCCTGGGCA</tspan></text>
<text font-size="7.8" fill="#333" text-anchor="end" class="m hd" x="465.60" y="307.73" >163</text>
<text font-size="7.8" fill="#333" text-anchor="end" class="m hd" x="510.80" y="307.73" >0.1</text>
<text x="7" y="319.02" class="m sq" font-size="5.95" textLength="372.21" lengthAdjust="spacingAndGlyphs"><tspan fill="#2c2c2c" stroke="#2c2c2c">CACCATGGTGCACCTGACTCCTGTGGAGAAGTCTGCCGTTACTGCCCTGTGGGGCAAGGTGAACGTGGATGAAGTTGGTGGTGAGGCCCTG</tspan><tspan fill="#C8102E" stroke="#C8102E">C</tspan><tspan fill="#2c2c2c" stroke="#2c2c2c">GCA</tspan></text>
<text font-size="7.8" fill="#333" text-anchor="end" class="m hd" x="465.60" y="319.22" >162</text>
<text font-size="7.8" fill="#333" text-anchor="end" class="m hd" x="510.80" y="319.22" >0.1</text>
<text x="7" y="330.51" class="m sq" font-size="5.95" textLength="372.21" lengthAdjust="spacingAndGlyphs"><tspan fill="#2c2c2c" stroke="#2c2c2c">CACCATGGTGCACCTGACTCCTG</tspan><tspan fill="#C8102E" stroke="#C8102E">A</tspan><tspan fill="#2c2c2c" stroke="#2c2c2c">--</tspan><tspan fill="#2c2c2c" stroke="#2c2c2c">AGAAGTCTGCCGTTACTGCCCTGTGGGGCAAGGTGAACGTGGATGAAGTTGGTGGTGAGGCCCTGGGCA</tspan></text>
<text font-size="7.8" fill="#333" text-anchor="end" class="m hd" x="465.60" y="330.71" >149</text>
<text font-size="7.8" fill="#333" text-anchor="end" class="m hd" x="510.80" y="330.71" >0.1</text>
<line x1="96.91" y1="228.70" x2="109.07" y2="228.70" stroke="#7a1020" stroke-width="0.9" />
<path d="M26.90,395.50 L26.90,375.40 A20.1,20.1 0 0 1 41.36,409.46 Z" fill="#C9C9C9" stroke="#1d1d1d" stroke-width="0.8" stroke-linejoin="round"/>
<path d="M26.90,395.50 L41.36,409.46 A20.1,20.1 0 0 1 11.96,408.95 Z" fill="#3DAE2B" stroke="#1d1d1d" stroke-width="0.8" stroke-linejoin="round"/>
<path d="M26.90,395.50 L11.96,408.95 A20.1,20.1 0 0 1 26.90,375.40 Z" fill="#0F6B55" stroke="#1d1d1d" stroke-width="0.8" stroke-linejoin="round"/>
<circle cx="26.9" cy="395.5" r="20.1" fill="none" stroke="#1d1d1d" stroke-width="0.9"/>
<path d="M76.00,395.50 L76.00,375.40 A20.1,20.1 0 1 1 70.93,414.95 Z" fill="#C9C9C9" stroke="#1d1d1d" stroke-width="0.8" stroke-linejoin="round"/>
<path d="M76.00,395.50 L70.93,414.95 A20.1,20.1 0 0 1 56.50,390.64 Z" fill="#3DAE2B" stroke="#1d1d1d" stroke-width="0.8" stroke-linejoin="round"/>
<path d="M76.00,395.50 L56.50,390.64 A20.1,20.1 0 0 1 76.00,375.40 Z" fill="#0F6B55" stroke="#1d1d1d" stroke-width="0.8" stroke-linejoin="round"/>
<circle cx="76.0" cy="395.5" r="20.1" fill="none" stroke="#1d1d1d" stroke-width="0.9"/>
<path d="M26.70,444.80 L26.70,424.70 A20.1,20.1 0 1 1 21.63,464.25 Z" fill="#C9C9C9" stroke="#1d1d1d" stroke-width="0.8" stroke-linejoin="round"/>
<path d="M26.70,444.80 L21.63,464.25 A20.1,20.1 0 0 1 7.15,449.46 Z" fill="#3DAE2B" stroke="#1d1d1d" stroke-width="0.8" stroke-linejoin="round"/>
<path d="M26.70,444.80 L7.15,449.46 A20.1,20.1 0 0 1 26.70,424.70 Z" fill="#0F6B55" stroke="#1d1d1d" stroke-width="0.8" stroke-linejoin="round"/>
<circle cx="26.7" cy="444.8" r="20.1" fill="none" stroke="#1d1d1d" stroke-width="0.9"/>
<rect x="55.70" y="423.80" width="5.90" height="5.90" fill="#C9C9C9" />
<text font-size="7.1" fill="#3c3c3c" stroke="#3c3c3c" stroke-width="0.12" x="64.60" y="429.20" >nonedited</text>
<rect x="55.70" y="434.90" width="5.90" height="5.90" fill="#3DAE2B" />
<text font-size="7.1" fill="#3c3c3c" stroke="#3c3c3c" stroke-width="0.12" x="64.60" y="440.30" >monoallelic</text>
<rect x="55.70" y="446.00" width="5.90" height="5.90" fill="#0F6B55" />
<text font-size="7.1" fill="#3c3c3c" stroke="#3c3c3c" stroke-width="0.12" x="64.60" y="451.40" >biallelic</text>
<rect x="55.70" y="457.10" width="5.90" height="5.90" fill="#6B1F7B" />
<text font-size="7.1" fill="#3c3c3c" stroke="#3c3c3c" stroke-width="0.12" x="64.60" y="462.50" >Indel</text>
<defs><filter id="b1" x="-20%" y="-100%" width="140%" height="300%"><feGaussianBlur stdDeviation="0.9"/></filter><filter id="b0" x="-20%" y="-100%" width="140%" height="300%"><feGaussianBlur stdDeviation="0.55"/></filter><filter id="b2" x="-30%" y="-30%" width="160%" height="160%"><feGaussianBlur stdDeviation="1.6"/></filter><linearGradient id="gelg" x1="0" y1="0" x2="0" y2="1"><stop offset="0" stop-color="#d9d9dd"/><stop offset="0.5" stop-color="#e1e1e4"/><stop offset="1" stop-color="#e6e6e8"/></linearGradient><linearGradient id="gelr" x1="0" y1="0" x2="1" y2="0"><stop offset="0" stop-color="#fff" stop-opacity="0"/><stop offset="1" stop-color="#fff" stop-opacity="0.75"/></linearGradient><clipPath id="gelc"><rect x="142" y="402" width="161" height="62.4"/></clipPath></defs>
<rect x="142.00" y="402.00" width="160.60" height="62.50" fill="url(#gelg)" />
<rect x="296" y="402" width="6.6" height="62.5" fill="url(#gelr)"/>
<g clip-path="url(#gelc)">
<rect x="146.0" y="404" width="9" height="20" fill="#f4f2f1" opacity="0.5" filter="url(#b2)"/>
<rect x="161.7" y="404" width="9" height="20" fill="#f4f2f1" opacity="0.5" filter="url(#b2)"/>
<rect x="175.6" y="404" width="9" height="20" fill="#f4f2f1" opacity="0.5" filter="url(#b2)"/>
<rect x="188.6" y="404" width="9" height="20" fill="#f4f2f1" opacity="0.5" filter="url(#b2)"/>
<rect x="201.7" y="404" width="9" height="20" fill="#f4f2f1" opacity="0.5" filter="url(#b2)"/>
<rect x="215.3" y="404" width="9" height="20" fill="#f4f2f1" opacity="0.5" filter="url(#b2)"/>
<rect x="228.0" y="404" width="9" height="20" fill="#f4f2f1" opacity="0.5" filter="url(#b2)"/>
<rect x="244.1" y="404" width="9" height="20" fill="#f4f2f1" opacity="0.5" filter="url(#b2)"/>
<rect x="261.1" y="404" width="9" height="20" fill="#f4f2f1" opacity="0.5" filter="url(#b2)"/>
<rect x="274.5" y="404" width="9" height="20" fill="#f4f2f1" opacity="0.5" filter="url(#b2)"/>
<rect x="287.4" y="404" width="9" height="20" fill="#f4f2f1" opacity="0.5" filter="url(#b2)"/>
<rect x="146.5" y="408" width="8" height="14" fill="#e3bfa2" opacity="0.55" filter="url(#b2)"/>
<rect x="146" y="421" width="9" height="13" fill="#d9a57e" opacity="0.45" filter="url(#b2)"/>
<ellipse cx="150.20" cy="425.60" rx="5.60" ry="1.95" fill="#b4552c" opacity="0.80" filter="url(#b1)"/>
<ellipse cx="150.20" cy="425.60" rx="4.50" ry="1.10" fill="#5a1206" opacity="1.0" filter="url(#b0)"/>
<ellipse cx="150.20" cy="429.50" rx="5.30" ry="1.55" fill="#cf9a72" opacity="0.72" filter="url(#b1)"/>
<ellipse cx="150.20" cy="429.50" rx="4.20" ry="0.70" fill="#a8643a" opacity="0.9" filter="url(#b0)"/>
<ellipse cx="150.20" cy="439.90" rx="5.80" ry="1.65" fill="#c08a62" opacity="0.80" filter="url(#b1)"/>
<ellipse cx="150.20" cy="439.90" rx="4.70" ry="0.80" fill="#8a4a28" opacity="1.0" filter="url(#b0)"/>
<ellipse cx="150.20" cy="456.60" rx="5.70" ry="1.95" fill="#e3b892" opacity="0.72" filter="url(#b1)"/>
<ellipse cx="150.20" cy="456.60" rx="4.60" ry="1.10" fill="#d39a6c" opacity="0.9" filter="url(#b0)"/>
<rect x="161.5" y="420" width="9.5" height="8" fill="#ecdcd2" opacity="0.55" filter="url(#b2)"/>
<ellipse cx="166.20" cy="438.90" rx="6.60" ry="2.20" fill="#a84a2a" opacity="0.80" filter="url(#b1)"/>
<ellipse cx="166.20" cy="438.90" rx="5.50" ry="1.35" fill="#47080a" opacity="1.0" filter="url(#b0)"/>
<ellipse cx="180.10" cy="424.80" rx="6.30" ry="1.60" fill="#b86a40" opacity="0.80" filter="url(#b1)"/>
<ellipse cx="180.10" cy="424.80" rx="5.20" ry="0.75" fill="#8a3a1a" opacity="1.0" filter="url(#b0)"/>
<ellipse cx="180.10" cy="438.90" rx="6.40" ry="2.15" fill="#a84a2a" opacity="0.80" filter="url(#b1)"/>
<ellipse cx="180.10" cy="438.90" rx="5.30" ry="1.30" fill="#47080a" opacity="1.0" filter="url(#b0)"/>
<ellipse cx="193.10" cy="424.80" rx="6.30" ry="1.60" fill="#b86a40" opacity="0.80" filter="url(#b1)"/>
<ellipse cx="193.10" cy="424.80" rx="5.20" ry="0.75" fill="#8a3a1a" opacity="1.0" filter="url(#b0)"/>
<ellipse cx="193.10" cy="438.90" rx="6.40" ry="2.15" fill="#a84a2a" opacity="0.80" filter="url(#b1)"/>
<ellipse cx="193.10" cy="438.90" rx="5.30" ry="1.30" fill="#47080a" opacity="1.0" filter="url(#b0)"/>
<ellipse cx="206.20" cy="424.20" rx="6.30" ry="1.50" fill="#b86a40" opacity="0.80" filter="url(#b1)"/>
<ellipse cx="206.20" cy="424.20" rx="5.20" ry="0.65" fill="#96482a" opacity="1.0" filter="url(#b0)"/>
<ellipse cx="206.20" cy="437.90" rx="6.40" ry="1.95" fill="#a84a2a" opacity="0.80" filter="url(#b1)"/>
<ellipse cx="206.20" cy="437.90" rx="5.30" ry="1.10" fill="#4c0d08" opacity="1.0" filter="url(#b0)"/>
<ellipse cx="219.80" cy="423.40" rx="6.30" ry="1.90" fill="#b86a40" opacity="0.80" filter="url(#b1)"/>
<ellipse cx="219.80" cy="423.40" rx="5.20" ry="1.05" fill="#5a1408" opacity="1.0" filter="url(#b0)"/>
<ellipse cx="219.80" cy="437.90" rx="6.40" ry="1.65" fill="#a84a2a" opacity="0.80" filter="url(#b1)"/>
<ellipse cx="219.80" cy="437.90" rx="5.30" ry="0.80" fill="#6e2610" opacity="1.0" filter="url(#b0)"/>
<ellipse cx="232.50" cy="423.70" rx="6.30" ry="1.85" fill="#b86a40" opacity="0.80" filter="url(#b1)"/>
<ellipse cx="232.50" cy="423.70" rx="5.20" ry="1.00" fill="#5e180a" opacity="1.0" filter="url(#b0)"/>
<ellipse cx="232.50" cy="437.90" rx="6.40" ry="1.85" fill="#a84a2a" opacity="0.80" filter="url(#b1)"/>
<ellipse cx="232.50" cy="437.90" rx="5.30" ry="1.00" fill="#5a1408" opacity="1.0" filter="url(#b0)"/>
<ellipse cx="248.60" cy="422.90" rx="6.30" ry="1.85" fill="#b86a40" opacity="0.80" filter="url(#b1)"/>
<ellipse cx="248.60" cy="422.90" rx="5.20" ry="1.00" fill="#5e180a" opacity="1.0" filter="url(#b0)"/>
<ellipse cx="248.60" cy="436.80" rx="6.40" ry="1.85" fill="#a84a2a" opacity="0.80" filter="url(#b1)"/>
<ellipse cx="248.60" cy="436.80" rx="5.30" ry="1.00" fill="#571308" opacity="1.0" filter="url(#b0)"/>
<ellipse cx="265.60" cy="423.40" rx="6.30" ry="1.85" fill="#b86a40" opacity="0.80" filter="url(#b1)"/>
<ellipse cx="265.60" cy="423.40" rx="5.20" ry="1.00" fill="#5e180a" opacity="1.0" filter="url(#b0)"/>
<ellipse cx="265.60" cy="437.30" rx="6.40" ry="1.95" fill="#a84a2a" opacity="0.80" filter="url(#b1)"/>
<ellipse cx="265.60" cy="437.30" rx="5.30" ry="1.10" fill="#4f0e08" opacity="1.0" filter="url(#b0)"/>
<rect x="275" y="408" width="8" height="12" fill="#e6cdbd" opacity="0.6" filter="url(#b2)"/>
<ellipse cx="279.00" cy="422.10" rx="6.50" ry="2.15" fill="#a84a2a" opacity="0.80" filter="url(#b1)"/>
<ellipse cx="279.00" cy="422.10" rx="5.40" ry="1.30" fill="#43080a" opacity="1.0" filter="url(#b0)"/>
<ellipse cx="291.90" cy="422.10" rx="5.80" ry="1.95" fill="#a84a2a" opacity="0.80" filter="url(#b1)"/>
<ellipse cx="291.90" cy="422.10" rx="4.70" ry="1.10" fill="#561006" opacity="1.0" filter="url(#b0)"/>
<ellipse cx="291.90" cy="425.90" rx="5.00" ry="1.30" fill="#cf9a72" opacity="0.72" filter="url(#b1)"/>
<ellipse cx="291.90" cy="425.90" rx="3.90" ry="0.50" fill="#a8643a" opacity="0.9" filter="url(#b0)"/>
<ellipse cx="291.90" cy="435.70" rx="5.60" ry="1.60" fill="#c08a62" opacity="0.80" filter="url(#b1)"/>
<ellipse cx="291.90" cy="435.70" rx="4.50" ry="0.75" fill="#7c3416" opacity="1.0" filter="url(#b0)"/>
<ellipse cx="291.90" cy="453.20" rx="5.50" ry="1.85" fill="#e3b892" opacity="0.76" filter="url(#b1)"/>
<ellipse cx="291.90" cy="453.20" rx="4.40" ry="1.00" fill="#c4753c" opacity="0.95" filter="url(#b0)"/>
</g>
<text font-size="7.9" fill="#1e1e1e" stroke="#1e1e1e" stroke-width="0.12" transform="translate(149.20,398.90) rotate(-45)" >AFSC</text>
<text font-size="7.5" fill="#1e1e1e" stroke="#1e1e1e" stroke-width="0.12" transform="translate(166.20,398.90) rotate(-45)" >untreated</text>
<text font-size="8.0" fill="#1e1e1e" stroke="#1e1e1e" stroke-width="0.12" transform="translate(180.00,398.90) rotate(-45)" >#2663</text>
<text font-size="8.0" fill="#1e1e1e" stroke="#1e1e1e" stroke-width="0.12" transform="translate(193.20,398.90) rotate(-45)" >#4771</text>
<text font-size="8.0" fill="#1e1e1e" stroke="#1e1e1e" stroke-width="0.12" transform="translate(207.50,398.90) rotate(-45)" >#4772</text>
<text font-size="8.0" fill="#1e1e1e" stroke="#1e1e1e" stroke-width="0.12" transform="translate(221.00,398.90) rotate(-45)" >#4873</text>
<text font-size="8.0" fill="#1e1e1e" stroke="#1e1e1e" stroke-width="0.12" transform="translate(234.30,398.90) rotate(-45)" >#4990</text>
<text font-size="8.0" fill="#1e1e1e" stroke="#1e1e1e" stroke-width="0.12" transform="translate(250.30,398.90) rotate(-45)" >#4991</text>
<text font-size="8.0" fill="#1e1e1e" stroke="#1e1e1e" stroke-width="0.12" transform="translate(267.00,398.90) rotate(-45)" >#4993</text>
<text font-size="6.7" fill="#1e1e1e" stroke="#1e1e1e" stroke-width="0.12" transform="translate(278.40,398.90) rotate(-45)" >ex vivo</text>
<text font-size="7.9" fill="#1e1e1e" stroke="#1e1e1e" stroke-width="0.12" transform="translate(292.00,398.90) rotate(-45)" >AFSC</text>
<text font-size="8.0" fill="#151515" text-anchor="end" stroke="#151515" stroke-width="0.12" x="131.00" y="423.55" >HbA</text>
<text font-size="8.0" fill="#151515" text-anchor="end" stroke="#151515" stroke-width="0.12" x="131.00" y="432.65" >HbF</text>
<text font-size="8.0" fill="#151515" text-anchor="end" stroke="#151515" stroke-width="0.12" x="131.00" y="442.05" >HbS</text>
<text font-size="8.0" fill="#151515" text-anchor="end" stroke="#151515" stroke-width="0.12" x="131.00" y="459.75" >HbC</text>
<path d="M134.2,422.4 Q136.6,425.6 141.2,426.4" fill="none" stroke="#151515" stroke-width="1"/>
<line x1="134.80" y1="430.40" x2="141.20" y2="430.40" stroke="#151515" stroke-width="1" />
<line x1="134.60" y1="439.70" x2="141.20" y2="439.70" stroke="#151515" stroke-width="1" />
<line x1="135.40" y1="456.90" x2="141.40" y2="456.90" stroke="#151515" stroke-width="1" />
<line x1="357.40" y1="365.80" x2="357.40" y2="476.30" stroke="#262626" stroke-width="1.15" />
<line x1="354.00" y1="475.70" x2="357.40" y2="475.70" stroke="#262626" stroke-width="0.85" />
<text font-size="7.8" fill="#1e1e1e" text-anchor="end" stroke="#1e1e1e" stroke-width="0.12" x="351.00" y="478.45" >0</text>
<line x1="354.00" y1="454.28" x2="357.40" y2="454.28" stroke="#262626" stroke-width="0.85" />
<text font-size="7.8" fill="#1e1e1e" text-anchor="end" stroke="#1e1e1e" stroke-width="0.12" x="351.00" y="457.03" >20</text>
<line x1="354.00" y1="432.86" x2="357.40" y2="432.86" stroke="#262626" stroke-width="0.85" />
<text font-size="7.8" fill="#1e1e1e" text-anchor="end" stroke="#1e1e1e" stroke-width="0.12" x="351.00" y="435.61" >40</text>
<line x1="354.00" y1="411.44" x2="357.40" y2="411.44" stroke="#262626" stroke-width="0.85" />
<text font-size="7.8" fill="#1e1e1e" text-anchor="end" stroke="#1e1e1e" stroke-width="0.12" x="351.00" y="414.19" >60</text>
<line x1="354.00" y1="390.02" x2="357.40" y2="390.02" stroke="#262626" stroke-width="0.85" />
<text font-size="7.8" fill="#1e1e1e" text-anchor="end" stroke="#1e1e1e" stroke-width="0.12" x="351.00" y="392.77" >80</text>
<line x1="354.00" y1="368.60" x2="357.40" y2="368.60" stroke="#262626" stroke-width="0.85" />
<text font-size="7.8" fill="#1e1e1e" text-anchor="end" stroke="#1e1e1e" stroke-width="0.12" x="351.00" y="371.35" >100</text>
<rect x="361.20" y="368.60" width="8.80" height="107.10" fill="#C40F2E" />
<rect x="361.20" y="368.60" width="8.80" height="1.60" fill="#F39A1E" />
<rect x="374.20" y="418.29" width="8.80" height="57.41" fill="#C40F2E" />
<rect x="374.20" y="368.60" width="8.80" height="49.99" fill="#3BAA35" />
<rect x="374.20" y="368.60" width="8.80" height="0.60" fill="#F39A1E" />
<line x1="378.60" y1="369.14" x2="378.60" y2="377.60" stroke="#1a1a1a" stroke-width="0.8" />
<line x1="376.00" y1="377.60" x2="381.20" y2="377.60" stroke="#1a1a1a" stroke-width="0.8" />
<line x1="378.60" y1="418.29" x2="378.60" y2="425.90" stroke="#3a0510" stroke-width="0.8" />
<line x1="376.80" y1="425.90" x2="380.40" y2="425.90" stroke="#3a0510" stroke-width="0.8" />
<line x1="376.80" y1="418.29" x2="380.40" y2="418.29" stroke="#3a0510" stroke-width="0.6" />
<line x1="356.80" y1="475.80" x2="386.60" y2="475.80" stroke="#262626" stroke-width="1.2" />
<line x1="365.60" y1="475.70" x2="365.60" y2="478.60" stroke="#262626" stroke-width="0.9" />
<line x1="378.60" y1="475.70" x2="378.60" y2="478.60" stroke="#262626" stroke-width="0.9" />
<text font-size="7.4" fill="#1e1e1e" text-anchor="end" stroke="#1e1e1e" stroke-width="0.12" transform="translate(368.20,485.20) rotate(-45)" >Untreated</text>
<text font-size="7.4" fill="#1e1e1e" text-anchor="end" stroke="#1e1e1e" stroke-width="0.12" transform="translate(381.20,485.20) rotate(-45)" ><tspan font-style="italic">In vivo</tspan>, wk16</text>
<text font-size="8.2" fill="#1e1e1e" text-anchor="middle" textLength="58.6" lengthAdjust="spacingAndGlyphs" transform="translate(332.10,420.90) rotate(-90)" stroke="#1e1e1e" stroke-width="0.22">% Hemoglobin (IEF)</text>
<line x1="445.60" y1="365.80" x2="445.60" y2="476.30" stroke="#262626" stroke-width="1.15" />
<line x1="442.20" y1="475.70" x2="445.60" y2="475.70" stroke="#262626" stroke-width="0.85" />
<text font-size="7.8" fill="#1e1e1e" text-anchor="end" stroke="#1e1e1e" stroke-width="0.12" x="439.20" y="478.45" >0</text>
<line x1="442.20" y1="454.28" x2="445.60" y2="454.28" stroke="#262626" stroke-width="0.85" />
<text font-size="7.8" fill="#1e1e1e" text-anchor="end" stroke="#1e1e1e" stroke-width="0.12" x="439.20" y="457.03" >20</text>
<line x1="442.20" y1="432.86" x2="445.60" y2="432.86" stroke="#262626" stroke-width="0.85" />
<text font-size="7.8" fill="#1e1e1e" text-anchor="end" stroke="#1e1e1e" stroke-width="0.12" x="439.20" y="435.61" >40</text>
<line x1="442.20" y1="411.44" x2="445.60" y2="411.44" stroke="#262626" stroke-width="0.85" />
<text font-size="7.8" fill="#1e1e1e" text-anchor="end" stroke="#1e1e1e" stroke-width="0.12" x="439.20" y="414.19" >60</text>
<line x1="442.20" y1="390.02" x2="445.60" y2="390.02" stroke="#262626" stroke-width="0.85" />
<text font-size="7.8" fill="#1e1e1e" text-anchor="end" stroke="#1e1e1e" stroke-width="0.12" x="439.20" y="392.77" >80</text>
<line x1="442.20" y1="368.60" x2="445.60" y2="368.60" stroke="#262626" stroke-width="0.85" />
<text font-size="7.8" fill="#1e1e1e" text-anchor="end" stroke="#1e1e1e" stroke-width="0.12" x="439.20" y="371.35" >100</text>
<rect x="450.00" y="368.60" width="8.70" height="107.10" fill="#C40F2E" />
<rect x="450.00" y="368.60" width="8.70" height="1.20" fill="#3BAA35" />
<rect x="462.60" y="415.19" width="8.70" height="60.51" fill="#C40F2E" />
<rect x="462.60" y="368.60" width="8.70" height="46.89" fill="#3BAA35" />
<rect x="462.60" y="368.60" width="8.70" height="0.60" fill="#F39A1E" />
<line x1="466.95" y1="369.14" x2="466.95" y2="386.81" stroke="#1a1a1a" stroke-width="0.8" />
<line x1="464.95" y1="386.81" x2="468.95" y2="386.81" stroke="#1a1a1a" stroke-width="0.8" />
<line x1="466.95" y1="415.19" x2="466.95" y2="433.07" stroke="#3a0510" stroke-width="0.8" />
<line x1="464.95" y1="433.07" x2="468.95" y2="433.07" stroke="#3a0510" stroke-width="0.8" />
<line x1="464.95" y1="415.19" x2="468.95" y2="415.19" stroke="#3a0510" stroke-width="0.6" />
<line x1="452.15" y1="370.10" x2="456.55" y2="370.10" stroke="#1a1a1a" stroke-width="0.8" />
<line x1="454.35" y1="369.03" x2="454.35" y2="370.74" stroke="#1a1a1a" stroke-width="0.8" />
<line x1="445.00" y1="475.80" x2="475.40" y2="475.80" stroke="#262626" stroke-width="1.2" />
<line x1="454.35" y1="475.70" x2="454.35" y2="478.60" stroke="#262626" stroke-width="0.9" />
<line x1="466.95" y1="475.70" x2="466.95" y2="478.60" stroke="#262626" stroke-width="0.9" />
<text font-size="7.4" fill="#1e1e1e" text-anchor="end" stroke="#1e1e1e" stroke-width="0.12" transform="translate(456.95,485.20) rotate(-45)" >Untreated</text>
<text font-size="7.4" fill="#1e1e1e" text-anchor="end" stroke="#1e1e1e" stroke-width="0.12" transform="translate(469.55,485.20) rotate(-45)" ><tspan font-style="italic">In vivo</tspan>, wk16</text>
<text font-size="8.2" fill="#1e1e1e" text-anchor="middle" textLength="66.4" lengthAdjust="spacingAndGlyphs" transform="translate(419.90,420.90) rotate(-90)" stroke="#1e1e1e" stroke-width="0.22">% Hemoglobin (HPLC)</text>
<rect x="481.60" y="406.70" width="5.40" height="5.40" fill="#F39A1E" />
<text font-size="7" fill="#333" stroke="#333" stroke-width="0.12" x="491.00" y="411.80" >HbF</text>
<rect x="481.60" y="418.00" width="5.40" height="5.40" fill="#C40F2E" />
<text font-size="7" fill="#333" stroke="#333" stroke-width="0.12" x="491.00" y="423.10" >HbS</text>
<rect x="481.60" y="429.30" width="5.40" height="5.40" fill="#3BAA35" />
<text font-size="7" fill="#333" stroke="#333" stroke-width="0.12" x="491.00" y="434.40" >HbA</text>
</svg>
<div class="frame"></div>
</body></html>
